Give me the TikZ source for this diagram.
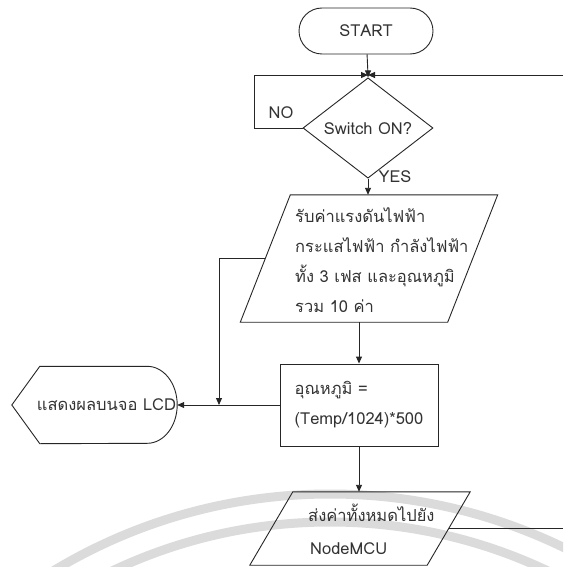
\documentclass[tikz,border=0pt]{standalone}
\usepackage{fontspec}
\setmainfont[Script=Thai]{Loma}
\usetikzlibrary{arrows.meta, positioning, shapes.geometric}

\begin{document}
\begin{tikzpicture}[
    x=1pt, y=-1pt,
    every node/.style={font=\fontsize{16.5}{30}\selectfont, text=black!80},
    line/.style={draw=black!85, line width=0.9pt},
    arrow/.style={line, -{Triangle[length=7pt, width=6pt]}},
    term/.style={line, rounded corners=23pt, minimum width=134pt, minimum height=46pt},
    decide/.style={line, diamond, inner sep=0pt, minimum width=130pt, minimum height=76pt},
    proc/.style={line, minimum width=158pt, minimum height=82pt, align=left},
    iobox/.style={minimum width=#1, inner sep=0pt},
    txt/.style={align=left, anchor=west, inner sep=0pt},
    wmark/.style={draw=black!14, line width=9pt}
  ]
  \fill[white] (0,0) rectangle (563,567);
  \useasboundingbox (0,0) rectangle (563,567);

  % faint rings behind the lower part
  \begin{scope}
    \clip (0,0) rectangle (563,567);
    \draw[wmark] (330,1030) circle[radius=536pt];
    \draw[wmark] (330,1030) circle[radius=508pt];
  \end{scope}

  % ---- main column ----
  \node[term] (start) at (366,31) {START};
  \coordinate (join) at (368,75);
  \node[decide] (switch) at (368,128) {Switch ON?};
  \node[iobox=257pt, minimum height=127pt] (read) at (369,258.5) {};
  \node[proc] (temp) at (359,405) {อุณหภูมิ =\\(Temp/1024)*500};
  \node[iobox=220pt, minimum height=73pt] (send) at (360,528.5) {};

  % ---- display on the left ----
  \node[iobox=137pt, minimum height=77pt] (lcd) at (108.5,405) {\hspace*{-4pt}แสดงผลบนจอ LCD};

  % loop ends and branch corners
  \coordinate (noTop) at (254,75);
  \coordinate (loopTop) at (563,75);
  \coordinate (tap) at (219,405);

  % slanted outlines
  \draw[line] ([xshift=50pt]read.north west) -- (read.north east)
    -- ([xshift=-50pt]read.south east) -- (read.south west) -- cycle;
  \draw[line] ([xshift=43pt]send.north west) -- (send.north east)
    -- ([xshift=-43pt]send.south east) -- (send.south west) -- cycle;
  \draw[line] ([xshift=-28pt]lcd.west) -- (lcd.north west)
    -- ([xshift=-30pt]lcd.north east)
    arc[start angle=90, end angle=-90, x radius=30pt, y radius=38.5pt]
    -- (lcd.south west) -- cycle;

  % texts of the input/output boxes
  \node[txt] (readText) at (295,260) {รับค่าแรงดันไฟฟ้า\\กระแสไฟฟ้า กำลังไฟฟ้า\\ทั้ง 3 เฟส และอุณหภูมิ\\รวม 10 ค่า};
  \node[txt, font=\fontsize{16.5}{33}\selectfont] (sendText) at (308,529) {ส่งค่าทั้งหมดไปยัง\\\hspace*{2pt}NodeMCU};

  % branch labels
  \node (no) at (281,113) {NO};
  \node (yes) at (395,177) {YES};

  % connectors
  \draw[line] (start) -- (join);
  \draw[arrow] (join) -- (switch);
  \draw[arrow] (switch.west) -- (switch.west -| noTop) -- (noTop) -- (join);
  \draw[arrow] (loopTop) -- (join);
  \draw[arrow] (switch.south) -- (switch.south |- read.north);
  \draw[arrow] (temp.north |- read.south) -- (temp);
  \draw[arrow] (temp) -- (send.north -| temp);
  \draw[line] ([xshift=-21.5pt]send.east) -- (send.east -| loopTop);
  \draw[arrow] (read.west -| tap) -- (tap);
  \draw[line] ([xshift=25pt]read.west) -- (read.west -| tap);
  \draw[arrow] (temp.west) -- (lcd.east);
\end{tikzpicture}
\end{document}
